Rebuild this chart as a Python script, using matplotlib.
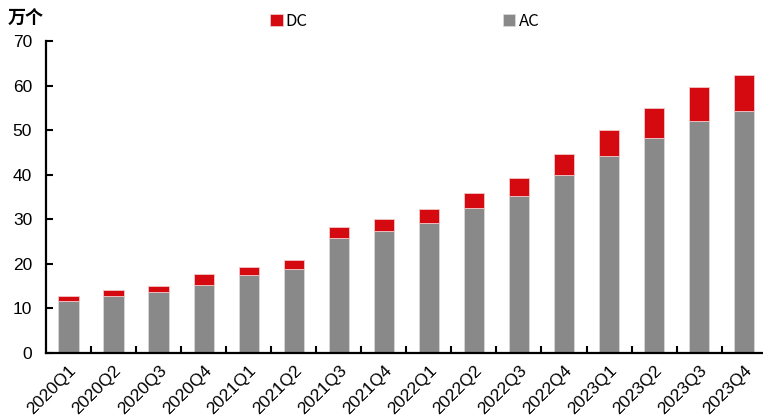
import matplotlib.pyplot as plt
import numpy as np

plt.rcParams['font.family'] = ['Liberation Sans', 'Noto Sans CJK SC', 'DejaVu Sans']

quarters = ['2020Q1', '2020Q2', '2020Q3', '2020Q4',
            '2021Q1', '2021Q2', '2021Q3', '2021Q4',
            '2022Q1', '2022Q2', '2022Q3', '2022Q4',
            '2023Q1', '2023Q2', '2023Q3', '2023Q4']
ac = [11.7, 12.9, 13.7, 15.3, 17.4, 18.9, 25.7, 27.4,
      29.2, 32.6, 35.2, 39.9, 44.1, 48.2, 52.1, 54.3]
total = [12.9, 14.1, 15.0, 17.7, 19.2, 20.9, 28.2, 30.1,
         32.2, 36.0, 39.3, 44.7, 50.0, 54.9, 59.6, 62.4]
dc = [t - a for t, a in zip(total, ac)]

fig = plt.figure(figsize=(7.63, 4.16), dpi=100)
ax = fig.add_axes([46 / 763, 63 / 416, 720.7 / 763, 312 / 416])

x = np.arange(len(quarters))
ax.bar(x, ac, width=0.45, color='#898989', edgecolor='#d8d8d8', linewidth=0.6, label='AC')
ax.bar(x, dc, bottom=ac, width=0.45, color='#d40a10', edgecolor='#f0c8c8', linewidth=0.6, label='DC')

ax.set_xlim(-0.5, len(quarters) - 0.5)
ax.set_ylim(0, 70)
ax.set_yticks(range(0, 71, 10))
ax.set_xticks(x)
ax.set_xticklabels(quarters, rotation=45, ha='right', rotation_mode='anchor', fontsize=12.5)
ax.set_xticks(x[:-1] + 0.5, minor=True)
ax.tick_params(axis='x', which='major', length=0, pad=7)
ax.tick_params(axis='x', which='minor', direction='in', length=5, width=1.5)
ax.tick_params(axis='y', direction='in', length=5, width=1.5, labelsize=12.5, pad=10)

for s in ['top', 'right']:
    ax.spines[s].set_visible(False)
for s in ['left', 'bottom']:
    ax.spines[s].set_linewidth(1.6)

fig.text(8 / 763, 1 - 18 / 416, '万个', fontsize=13, fontweight='bold',
         va='center', ha='left', family=['Noto Sans CJK SC', 'DejaVu Sans'])

handles, labels = ax.get_legend_handles_labels()
fig.legend(handles[::-1], labels[::-1], ncol=2, loc='center left',
           bbox_to_anchor=(270 / 763, 1 - 21 / 416), frameon=False,
           prop={'family': ['Noto Sans CJK SC', 'DejaVu Sans'], 'size': 12},
           handlelength=0.75, handleheight=0.75, handletextpad=0.2,
           columnspacing=11.7, borderaxespad=0, borderpad=0)

fig.savefig('out.png', dpi=100)
